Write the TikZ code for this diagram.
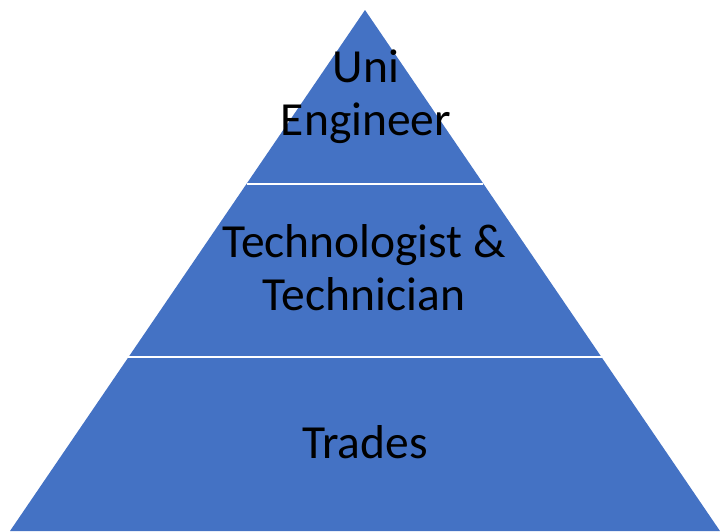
\documentclass[tikz,border=0pt]{standalone}
\usepackage{fontspec}
\setmainfont{Carlito}
\usetikzlibrary{calc}
\definecolor{levelblue}{HTML}{4472C4}
\tikzset{
  level/.style={fill=levelblue, draw=none},
  divider/.style={draw=white, line width=2.2pt},
  label/.style={anchor=base, inner sep=0pt, text=black,
    font=\fontsize{47.5}{53}\selectfont}
}
\begin{document}
\begin{tikzpicture}[x=1pt, y=-1pt]
  \useasboundingbox (0,0) rectangle (720,531);
  % pyramid outline
  \coordinate (apex) at (365,10);
  \coordinate (bl) at (10,531);
  \coordinate (br) at (720,531);
  \begin{scope}
    \clip (0,0) rectangle (720,531);
    \fill[level] (apex) -- (bl) -- (br) -- cycle;
  \end{scope}
  % level boundaries at one and two thirds of the height
  \coordinate (l1) at ($(apex)!1/3!(bl)$);
  \coordinate (r1) at ($(apex)!1/3!(br)$);
  \coordinate (l2) at ($(apex)!2/3!(bl)$);
  \coordinate (r2) at ($(apex)!2/3!(br)$);
  \draw[divider] (l1) -- (r1);
  \draw[divider] (l2) -- (r2);
  % level labels
  \node[label] (uni) at (366,82) {Uni};
  \node[label] (eng) at (366,135) {Engineer};
  \node[label] (techno) at (364,257) {Technologist \&};
  \node[label] (techn) at (364,310) {Technician};
  \node[label] (trades) at (365,458) {Trades};
\end{tikzpicture}
\end{document}
